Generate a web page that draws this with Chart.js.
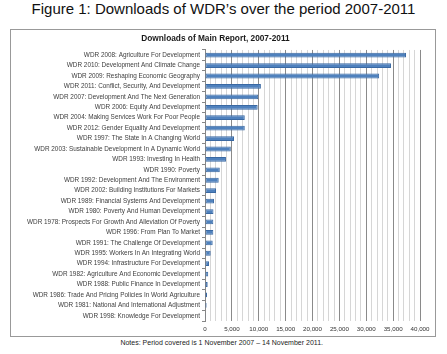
<!DOCTYPE html>
<html>
<head>
<meta charset="utf-8">
<script src="https://cdn.jsdelivr.net/npm/chart.js@4"></script>
<style>
  html, body { margin: 0; padding: 0; background: #fff; }
  body { width: 447px; height: 354px; position: relative; overflow: hidden; font-family: "Liberation Sans", Arial, sans-serif; }
  #fig { position: absolute; left: 0; top: 0; width: 447px; text-align: center; font-size: 15px; line-height: 18px; color: #111; }
  #box { position: absolute; left: 10px; top: 29px; width: 424px; height: 306px; border: 1px solid #999; }
  #box canvas { position: absolute; left: 0; top: 0; }
  #notes { position: absolute; right: 124px; top: 339px; font-size: 7px; line-height: 8px; color: #222; white-space: nowrap; }
</style>
</head>
<body>
<div id="fig">Figure 1: Downloads of WDR’s over the period 2007-2011</div>
<div id="box"><canvas id="c" width="424" height="306"></canvas></div>
<div id="notes">Notes: Period covered is 1 November 2007 – 14 November 2011.</div>
<script>
const chartTitle = "Downloads of Main Report, 2007-2011";
const categories = [
  "WDR 2008: Agriculture For Development",
  "WDR 2010: Development And Climate Change",
  "WDR 2009: Reshaping Economic Geography",
  "WDR 2011: Conflict, Security, And Development",
  "WDR 2007: Development And The Next Generation",
  "WDR 2006: Equity And Development",
  "WDR 2004: Making Services Work For Poor People",
  "WDR 2012: Gender Equality And Development",
  "WDR 1997: The State In A Changing World",
  "WDR 2003: Sustainable Development In A Dynamic World",
  "WDR 1993: Investing In Health",
  "WDR 1990: Poverty",
  "WDR 1992: Development And The Environment",
  "WDR 2002: Building Institutions For Markets",
  "WDR 1989: Financial Systems And Development",
  "WDR 1980: Poverty And Human Development",
  "WDR 1978: Prospects For Growth And Alleviation Of Poverty",
  "WDR 1996: From Plan To Market",
  "WDR 1991: The Challenge Of Development",
  "WDR 1995: Workers In An Integrating World",
  "WDR 1994: Infrastructure For Development",
  "WDR 1982: Agriculture And Economic Development",
  "WDR 1988: Public Finance In Development",
  "WDR 1986: Trade And Pricing Policies In World Agriculture",
  "WDR 1981: National And International Adjustment",
  "WDR 1998: Knowledge For Development"
];
const downloads = [37400, 34600, 32400, 10400, 9900, 9800, 7400, 7400, 5400, 4800,
                   3900, 2750, 2550, 2050, 1670, 1580, 1550, 1550, 1430, 1060,
                   750, 600, 500, 370, 300, 140];
const xTickLabels = ["0", "5,000", "10,000", "15,000", "20,000", "25,000", "30,000", "35,000", "40,000"];
const xMax = 40000;
const majorStep = 5000;
const minorStep = 1000;

new Chart(document.getElementById('c'), {
  type: 'bar',
  data: {
    labels: categories,
    datasets: [{
      data: downloads,
      backgroundColor: '#4f81bd',
      borderColor: '#3a69a3',
      borderWidth: 1,
      borderSkipped: false,
      categoryPercentage: 1,
      barPercentage: 0.46
    }]
  },
  options: {
    indexAxis: 'y',
    responsive: false,
    animation: false,
    devicePixelRatio: 1,
    layout: { padding: { left: 0, right: 15, top: 0, bottom: 0 } },
    plugins: {
      legend: { display: false },
      tooltip: { enabled: false },
      title: {
        display: true,
        text: chartTitle,
        color: '#1a1a1a',
        font: { family: 'Liberation Sans', size: 8.3, weight: 'bold' },
        padding: { top: 4, bottom: 6 }
      }
    },
    scales: {
      x: {
        min: 0, max: xMax,
        afterFit: s => { s.height = 15; },
        border: { display: false },
        grid: {
          drawTicks: false,
          color: ctx => (ctx.tick && ctx.tick.value % majorStep === 0) ? '#8a8a8a' : '#d6d6d6',
          lineWidth: 1
        },
        ticks: {
          stepSize: minorStep,
          autoSkip: false,
          maxRotation: 0,
          padding: 5,
          color: '#333',
          font: { family: 'Liberation Sans', size: 6.2 },
          callback: v => (v % majorStep === 0) ? xTickLabels[v / majorStep] : ''
        }
      },
      y: {
        afterFit: s => { s.width = 194; },
        border: { display: true, color: '#868686' },
        grid: { drawOnChartArea: false, drawTicks: true, tickLength: 3, color: '#868686', offset: true },
        ticks: {
          autoSkip: false,
          padding: 2,
          color: '#404040',
          font: { family: 'Liberation Sans', size: 6.4 }
        }
      }
    }
  }
});
</script>
</body>
</html>
